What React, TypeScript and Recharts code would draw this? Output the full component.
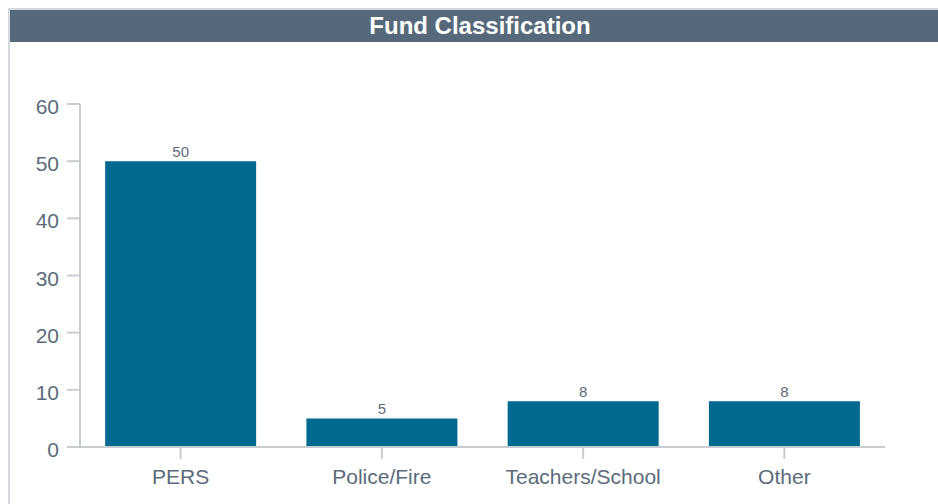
import { BarChart, Bar, XAxis, YAxis, LabelList } from 'recharts'

const categories = ['PERS', 'Police/Fire', 'Teachers/School', 'Other']
const counts = [50, 5, 8, 8]
const yTicks = [0, 10, 20, 30, 40, 50, 60]

const data = categories.map((name, i) => ({ name, count: counts[i] }))

const FONT = '"Liberation Sans", Arial, Helvetica, sans-serif'
const TEXT = '#5b6b7b'
const AXIS = '#c9cdd2'

function YTick(props: any) {
  const { x, y, payload } = props
  return (
    <text x={x} y={y + 10} textAnchor="end" fill={TEXT} fontSize={21} fontFamily={FONT}>
      {payload.value}
    </text>
  )
}

export default function App() {
  return (
    <div
      style={{
        position: 'fixed',
        left: 8,
        top: 8,
        width: 930,
        height: 496,
        overflow: 'hidden',
        background: '#fff',
      }}
    >
      <div
        style={{
          width: 940,
          height: 494,
          borderTop: '2px solid #d3d9df',
          borderLeft: '2px solid #d3d9df',
          fontFamily: FONT,
        }}
      >
        <div
          style={{
            height: 32,
            lineHeight: '32px',
            background: '#56697a',
            color: '#fff',
            fontWeight: 'bold',
            fontSize: 24,
            textAlign: 'center',
          }}
        >
          Fund Classification
        </div>
        <BarChart
          width={928}
          height={462}
          data={data}
          barCategoryGap="12.5%"
          margin={{ top: 62, right: 53, left: 0, bottom: 0 }}
        >
          <XAxis
            dataKey="name"
            height={57}
            axisLine={{ stroke: AXIS, strokeWidth: 2 }}
            tickLine={{ stroke: AXIS, strokeWidth: 2 }}
            tickSize={12}
            tickMargin={10}
            tick={{ fill: TEXT, fontSize: 21, fontFamily: FONT }}
          />
          <YAxis
            width={70}
            domain={[0, 60]}
            ticks={yTicks}
            axisLine={{ stroke: AXIS, strokeWidth: 2 }}
            tickLine={{ stroke: AXIS, strokeWidth: 2 }}
            tickSize={13}
            tickMargin={8}
            tick={<YTick />}
          />
          <Bar dataKey="count" fill="#00698f" isAnimationActive={false}>
            <LabelList
              dataKey="count"
              position="top"
              offset={4}
              fill={TEXT}
              fontSize={15}
              fontFamily={FONT}
            />
          </Bar>
        </BarChart>
      </div>
    </div>
  )
}
